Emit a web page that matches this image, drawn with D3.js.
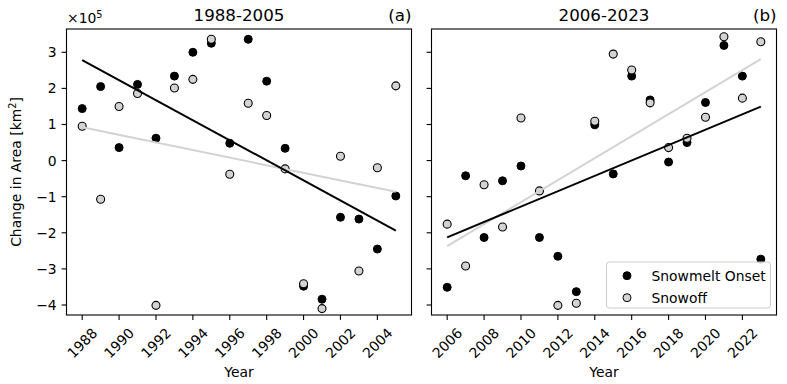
<!DOCTYPE html>
<html>
<head>
<meta charset="utf-8">
<script src="https://cdn.jsdelivr.net/npm/d3@7"></script>
<style>
  body { margin: 0; background: #fff; }
  svg { font-family: "DejaVu Sans", sans-serif; }
</style>
</head>
<body>
<svg id="chart" width="787" height="384"></svg>
<script>
// Data (area change, x1e5 km^2)
const yearsA = d3.range(1988, 2006);
const yearsB = d3.range(2006, 2024);

const meltA = [1.44, 2.05, 0.36, 2.11, 0.62, 2.34, 3.00, 3.25, 0.48, 3.36, 2.20, 0.34, -3.48, -3.84, -1.57, -1.62, -2.45, -0.98];
const offA  = [0.95, -1.07, 1.50, 1.86, -4.01, 2.01, 2.25, 3.36, -0.38, 1.59, 1.25, -0.23, -3.41, -4.10, 0.12, -3.06, -0.20, 2.07];

const meltB = [-3.51, -0.42, -2.13, -0.56, -0.15, -2.13, -2.65, -3.63, 0.99, -0.37, 2.34, 1.68, -0.04, 0.50, 1.61, 3.19, 2.34, -2.73];
const offB  = [-1.76, -2.92, -0.67, -1.84, 1.18, -0.84, -4.01, -3.95, 1.09, 2.95, 2.51, 1.60, 0.36, 0.62, 1.20, 3.43, 1.73, 3.29];

const yTicks = [-4, -3, -2, -1, 0, 1, 2, 3];
const ticksA = d3.range(1988, 2006, 2);
const ticksB = d3.range(2006, 2024, 2);

const svg = d3.select("#chart");
const plotTop = 29, plotBottom = 315;
const fs = 13.9;

// shared y scale
const y = d3.scaleLinear().domain([-4.277, 3.645]).range([plotBottom, plotTop]);

// least squares line
function fit(xs, ys) {
    const mx = d3.mean(xs), my = d3.mean(ys);
    const b = d3.sum(xs, (x, i) => (x - mx) * (ys[i] - my)) / d3.sum(xs, x => (x - mx) * (x - mx));
    return x => my + b * (x - mx);
}

function panel(x0, x1, years, melt, off, ticks, title, tag, showY) {
    const x = d3.scaleLinear()
        .domain([years[0] - 0.85, years[years.length - 1] + 0.85])
        .range([x0, x1]);
    const g = svg.append("g");

    // points: snowmelt first, snowoff on top
    g.selectAll(".melt").data(years).enter().append("circle")
        .attr("cx", d => x(d)).attr("cy", (d, i) => y(melt[i]))
        .attr("r", 4).attr("fill", "#000").attr("stroke", "#000").attr("stroke-width", 1);
    g.selectAll(".off").data(years).enter().append("circle")
        .attr("cx", d => x(d)).attr("cy", (d, i) => y(off[i]))
        .attr("r", 4).attr("fill", "#d3d3d3").attr("stroke", "#000").attr("stroke-width", 1.1);

    // trend lines
    const line = d3.line().x(d => x(d[0])).y(d => y(d[1]));
    const fm = fit(years, melt), fo = fit(years, off);
    const ends = [years[0], years[years.length - 1]];
    g.append("path").attr("d", line(ends.map(t => [t, fo(t)])))
        .attr("fill", "none").attr("stroke", "#d3d3d3").attr("stroke-width", 2);
    g.append("path").attr("d", line(ends.map(t => [t, fm(t)])))
        .attr("fill", "none").attr("stroke", "#000").attr("stroke-width", 2);

    // frame
    g.append("rect").attr("x", x0).attr("y", plotTop)
        .attr("width", x1 - x0).attr("height", plotBottom - plotTop)
        .attr("fill", "none").attr("stroke", "#000").attr("stroke-width", 1.1);

    // y ticks
    g.selectAll(".yt").data(yTicks).enter().append("line")
        .attr("x1", x0 - 4.9).attr("x2", x0)
        .attr("y1", d => y(d)).attr("y2", d => y(d))
        .attr("stroke", "#000").attr("stroke-width", 1.1);
    if (showY) {
        g.selectAll(".yl").data(yTicks).enter().append("text")
            .attr("x", x0 - 9.8).attr("y", d => y(d))
            .attr("text-anchor", "end").attr("dominant-baseline", "central")
            .attr("font-size", fs)
            .text(d => d < 0 ? "\u2212" + Math.abs(d) : d);
    }

    // x ticks
    g.selectAll(".xt").data(ticks).enter().append("line")
        .attr("x1", d => x(d)).attr("x2", d => x(d))
        .attr("y1", plotBottom).attr("y2", plotBottom + 4.9)
        .attr("stroke", "#000").attr("stroke-width", 1.1);
    g.selectAll(".xl").data(ticks).enter().append("text")
        .attr("transform", d => `translate(${x(d)},${plotBottom + 9.8 + 18.2}) rotate(-45)`)
        .attr("text-anchor", "middle").attr("dominant-baseline", "central")
        .attr("font-size", fs)
        .text(d => d);

    g.append("text").attr("x", (x0 + x1) / 2).attr("y", 377)
        .attr("text-anchor", "middle").attr("font-size", fs).text("Year");

    g.append("text").attr("x", (x0 + x1) / 2).attr("y", 21)
        .attr("text-anchor", "middle").attr("font-size", 16.7).text(title);
    g.append("text").attr("x", x1).attr("y", 21)
        .attr("text-anchor", "end").attr("font-size", 16.7).text(tag);
    return x;
}

panel(66.5, 411.5, yearsA, meltA, offA, ticksA, "1988-2005", "(a)", true);
panel(431.5, 776.5, yearsB, meltB, offB, ticksB, "2006-2023", "(b)", false);

// offset text and y label
const mult = svg.append("text").attr("x", 67).attr("y", 23).attr("font-size", fs);
mult.append("tspan").text("\u00d710");
mult.append("tspan").attr("font-size", 9.7).attr("dy", -5.5).text("5");

svg.append("text")
    .attr("transform", `translate(21,${(plotTop + plotBottom) / 2}) rotate(-90)`)
    .attr("text-anchor", "middle").attr("font-size", fs)
    .html('Change in Area [km<tspan font-size="9.7" dy="-5">2</tspan><tspan dy="5">]</tspan>');

// legend
const leg = svg.append("g");
leg.append("rect").attr("x", 606.5).attr("y", 262).attr("width", 164).attr("height", 46)
    .attr("rx", 3).attr("fill", "#fff").attr("fill-opacity", 0.8)
    .attr("stroke", "#ccc").attr("stroke-width", 1);
const items = [["Snowmelt Onset", "#000", 0], ["Snowoff", "#d3d3d3", 1]];
items.forEach(([label, col, i]) => {
    const cy = 275.7 + i * 22;
    leg.append("circle").attr("cx", 627).attr("cy", cy).attr("r", 4)
        .attr("fill", col).attr("stroke", "#000").attr("stroke-width", 1);
    leg.append("text").attr("x", 651.5).attr("y", cy).attr("dominant-baseline", "central")
        .attr("font-size", fs).text(label);
});
</script>
</body>
</html>
